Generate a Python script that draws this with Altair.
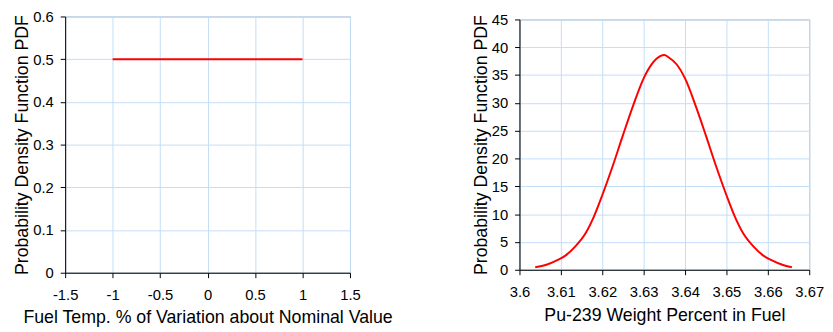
import altair as alt
import pandas as pd

# Left panel: uniform distribution
uni_x = [-1.0, 1.0]
uni_y = [0.5, 0.5]

# Right panel: Pu-239 weight percent PDF
pu_x = [3.6038, 3.6065, 3.609, 3.611, 3.6135, 3.616, 3.618, 3.620, 3.6225, 3.625,
        3.6275, 3.630, 3.632, 3.634, 3.635, 3.636, 3.638, 3.640, 3.6425, 3.645,
        3.6475, 3.650, 3.652, 3.654, 3.6565, 3.659, 3.661, 3.6635, 3.6658]
pu_y = [0.45, 0.9, 1.7, 2.5, 4.2, 6.6, 9.6, 13.4, 18.6, 24.2,
        29.6, 34.4, 37.0, 38.4, 38.6, 38.2, 36.9, 34.4, 29.6, 24.2,
        18.6, 13.4, 9.6, 6.6, 4.2, 2.5, 1.7, 0.9, 0.45]

left_ticks = [-1.5, -1, -0.5, 0, 0.5, 1, 1.5]
left_yticks = [0, 0.1, 0.2, 0.3, 0.4, 0.5, 0.6]
right_ticks = [3.6, 3.61, 3.62, 3.63, 3.64, 3.65, 3.66, 3.67]
right_yticks = [0, 5, 10, 15, 20, 25, 30, 35, 40, 45]

FONT = "Liberation Sans"
GRID = "#c2ddf7"
YTITLE = "Probability Density Function PDF"

def axis(values, title, lp, tp):
    return alt.Axis(values=values, title=title, labelExpr="toString(datum.value)",
                    grid=True, gridColor=GRID,
                    gridWidth=1, domainColor="#000000", tickColor="#000000",
                    tickSize=5, labelFont=FONT, labelFontSize=15, labelColor="#000000",
                    labelPadding=lp, titleFont=FONT, titleFontSize=18,
                    titleFontWeight="normal", titleColor="#000000", titlePadding=tp,
                    labelFlush=False, labelOverlap=False)

df_l = pd.DataFrame({"x": uni_x, "y": uni_y})
left = alt.Chart(df_l).mark_line(color="#ff0000", strokeWidth=2).encode(
    x=alt.X("x:Q", scale=alt.Scale(domain=[-1.5, 1.5], nice=False),
            axis=axis(left_ticks, "Fuel Temp. % of Variation about Nominal Value", 10, 7)),
    y=alt.Y("y:Q", scale=alt.Scale(domain=[0, 0.6], nice=False),
            axis=axis(left_yticks, YTITLE, 7, 1)),
).properties(width=289, height=260)

df_r = pd.DataFrame({"x": pu_x, "y": pu_y})
right = alt.Chart(df_r).mark_line(color="#ff0000", strokeWidth=2, interpolate="monotone").encode(
    x=alt.X("x:Q", scale=alt.Scale(domain=[3.6, 3.67], nice=False),
            axis=axis(right_ticks, "Pu-239 Weight Percent in Fuel", 10, 7)),
    y=alt.Y("y:Q", scale=alt.Scale(domain=[0, 45], nice=False),
            axis=axis(right_yticks, YTITLE, 7, 1)),
).properties(width=294, height=254)

chart = alt.hconcat(left, right, spacing=79, center=True).configure_view(
    stroke="#a4acb8", strokeWidth=1
).properties(padding={"left": 5, "top": -2, "right": 0, "bottom": 0}, background="white")

chart.save("out.html", embed_options={"renderer": "svg", "actions": False})
